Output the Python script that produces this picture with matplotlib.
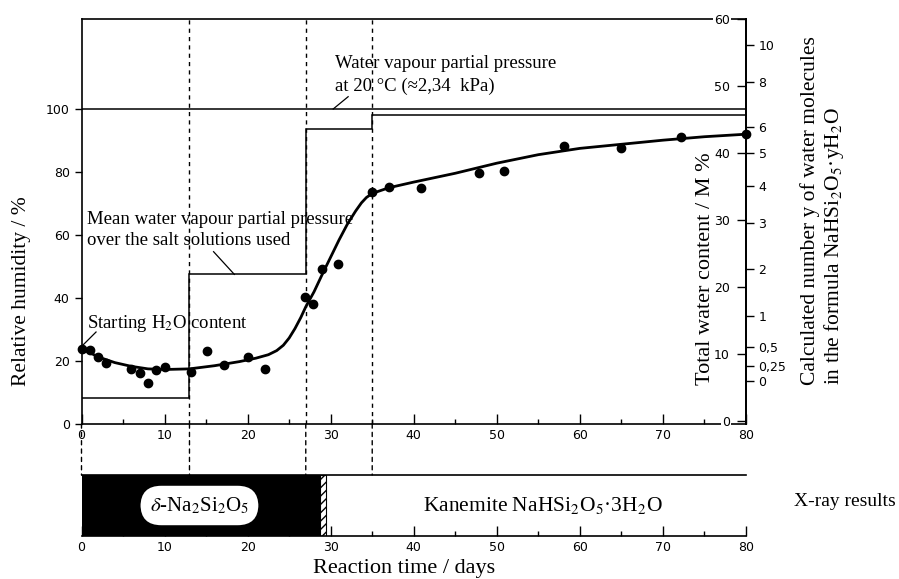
import matplotlib
matplotlib.use('Agg')
import matplotlib.pyplot as plt
from matplotlib.patches import Rectangle, ConnectionPatch

plt.rcParams['font.family'] = ['Liberation Serif', 'DejaVu Serif']
plt.rcParams['mathtext.fontset'] = 'stix'

# measured points (reaction time / days, relative humidity %)
days_pts = [0, 1, 2, 3, 6, 7, 8, 9, 10, 13.2, 15.1, 17.1, 20.1, 22.1, 26.9, 27.9,
            29.0, 30.9, 35.0, 37.0, 40.9, 47.9, 50.9, 58.1, 65.0, 72.2, 80.0]
rh_pts = [23.7, 23.5, 21.2, 19.3, 17.5, 16.1, 13.1, 17.1, 18.0, 16.6, 23.2, 18.7,
          21.2, 17.4, 40.4, 38.0, 49.1, 50.7, 73.6, 75.3, 74.8, 79.8, 80.4, 88.3,
          87.7, 91.0, 92.1]

# hand drawn trend line
curve_days = [0, 2, 4, 6, 8, 10, 13, 16, 19, 21, 22.5, 23.5, 24.3, 25, 25.7, 26.4, 27,
              28, 29, 30, 31, 32, 33, 33.7, 34.3, 35, 37, 40, 45, 50, 55, 60, 65, 70, 75, 80]
curve_rh = [24.0, 21.3, 19.5, 18.3, 17.5, 17.3, 17.5, 18.5, 19.8, 20.9, 22.0, 23.3,
            25.0, 27.3, 30.3, 33.8, 37.2, 42.0, 47.6, 53.0, 58.4, 63.4, 67.6, 70.2,
            71.9, 73.2, 75.0, 76.8, 79.6, 82.8, 85.5, 87.5, 88.8, 90.1, 91.2, 92.0]

# mean water vapour pressure over the salt solutions (step)
step_edges = [0, 13, 27, 35, 80]
step_levels = [8.1, 47.5, 93.5, 98.0]
saturation = 100
change_days = [13, 27, 35]

# right axes
water_ticks = [0, 10, 20, 30, 40, 50, 60]
y_labels = ['10', '8', '6', '5', '4', '3', '2', '1', '0,5', '0,25', '0']
y_pos = [56.0, 50.5, 43.8, 39.9, 35.1, 29.5, 22.7, 15.7, 11.0, 8.2, 5.9]

# X-ray phases
phase_end = 28.7
mixed_width = 0.7

tick_font = dict(fontfamily=['Liberation Sans Narrow', 'DejaVu Sans'], fontsize=9)
dash = (0, (3, 3))

fig = plt.figure(figsize=(8.99, 5.79), dpi=100)
L, W = 81.5 / 899, (746 - 81.5) / 899
ax = fig.add_axes([L, 1 - 424 / 579, W, (424 - 18.5) / 579])
sx = fig.add_axes([L, 1 - 536 / 579, W, (536 - 475) / 579])

ax.set_xlim(0, 80)
ax.set_ylim(0, (424 - 18.5) / 3.15)
ax.stairs(step_levels, step_edges, baseline=None, color='black', lw=1.1)
ax.axhline(saturation, color='black', lw=1.1)
for d in change_days:
    ax.axvline(d, color='black', lw=1, ls=dash)
ax.plot(curve_days, curve_rh, color='black', lw=2.0, solid_capstyle='round',
        solid_joinstyle='round')
ax.plot(days_pts, rh_pts, 'o', color='black', ms=6, clip_on=False)

ax.set_xticks(range(0, 81, 10), [str(v) for v in range(0, 81, 10)], **tick_font)
ax.set_xticks(range(5, 80, 10), minor=True)
ax.tick_params(axis='x', which='major', direction='in', length=7, width=1)
ax.tick_params(axis='x', which='minor', direction='in', length=3.5, width=1)
ax.set_yticks(range(0, 101, 20), [str(v) for v in range(0, 101, 20)], **tick_font)
ax.tick_params(axis='y', direction='out', length=5, width=1)
for s in ax.spines.values():
    s.set_linewidth(1.2)

# water content axis, labels inside the frame
ax2 = ax.twinx()
ax2.set_ylim(-0.45, 60)
ax2.set_yticks(water_ticks, [str(v) for v in water_ticks], **tick_font)
ax2.tick_params(axis='y', direction='in', length=6.5, width=1, pad=-11.5)
for lab in ax2.get_yticklabels():
    lab.set_ha('right')
    lab.set_bbox(dict(fc='white', ec='none', pad=1))
for k in ['left', 'top', 'bottom']:
    ax2.spines[k].set_visible(False)
ax2.spines['right'].set_linewidth(1.2)

# calculated number of water molecules
ax3 = ax.twinx()
ax3.set_ylim(-0.45, 60)
ax3.set_yticks(y_pos, y_labels, **tick_font)
ax3.tick_params(axis='y', direction='out', length=6, width=1, pad=3)
for k in ['left', 'top', 'bottom']:
    ax3.spines[k].set_visible(False)
ax3.spines['right'].set_linewidth(1.2)

# annotations
fs = 13.5
ax.text(30.5, 114.6, 'Water vapour partial pressure', fontsize=fs, va='center')
ax.text(30.5, 107.3, 'at 20 °C (≈2,34  kPa)', fontsize=fs, va='center')
ax.plot([32.1, 30.3], [103.9, 100.0], color='black', lw=0.9)
ax.text(0.7, 64.8, 'Mean water vapour partial pressure', fontsize=fs, va='center')
ax.text(0.7, 58.4, 'over the salt solutions used', fontsize=fs, va='center')
ax.plot([15.9, 18.4], [54.7, 47.5], color='black', lw=0.9)
ax.text(0.7, 32.0, 'Starting H$_2$O content', fontsize=fs, va='center')
ax.plot([1.75, 0.0], [29.2, 24.6], color='black', lw=0.9)

# X-ray strip
sx.set_xlim(0, 80)
sx.set_ylim(0, 1)
sx.add_patch(Rectangle((0, 0), phase_end, 1, fc='black', ec='none'))
sx.add_patch(Rectangle((phase_end, 0), mixed_width, 1, fc='white', ec='black',
                       hatch='////', lw=0.8))
sx.text(14.2, 0.5, r'$\delta$-Na$_2$Si$_2$O$_5$', fontsize=15, ha='center', va='center',
        bbox=dict(boxstyle='round,pad=0.45,rounding_size=1.0', fc='white', ec='none'))
sx.text(55.5, 0.5, 'Kanemite NaHSi$_2$O$_5$·3H$_2$O', fontsize=15.5, ha='center', va='center')
sx.set_xticks(range(0, 81, 10), [str(v) for v in range(0, 81, 10)], **tick_font)
sx.set_xticks(range(5, 80, 10), minor=True)
sx.tick_params(axis='x', which='major', direction='in', length=7, width=1)
sx.tick_params(axis='x', which='minor', direction='in', length=3.5, width=1)
sx.set_yticks([])
sx.spines['left'].set_visible(False)
sx.spines['right'].set_visible(False)
sx.spines['top'].set_linewidth(1.2)
sx.spines['bottom'].set_linewidth(1.2)

for d in [0] + change_days:
    con = ConnectionPatch(xyA=(d, 0), coordsA=ax.transData, xyB=(d, 1), coordsB=sx.transData,
                          color='black', lw=1, ls=dash)
    fig.add_artist(con)

# axis titles
fig.text(22 / 899, 1 - 291 / 579, 'Relative humidity / %', rotation=90, fontsize=15.5,
         ha='center', va='center')
fig.text(706 / 899, 1 - 385 / 579, 'Total water content / M %', rotation=90, fontsize=16,
         ha='center', va='bottom')
fig.text(810 / 899, 1 - 385 / 579, 'Calculated number y of water molecules', rotation=90,
         fontsize=15.5, ha='center', va='bottom')
fig.text(834 / 899, 1 - 385 / 579, 'in the formula NaHSi$_2$O$_5$·yH$_2$O', rotation=90,
         fontsize=15.5, ha='center', va='bottom')
fig.text(404 / 899, 1 - 569 / 579, 'Reaction time / days', fontsize=16, ha='center', va='center')
fig.text(845 / 899, 1 - 501 / 579, 'X-ray results', fontsize=14, ha='center', va='center')

fig.savefig('out.png', dpi=100)
